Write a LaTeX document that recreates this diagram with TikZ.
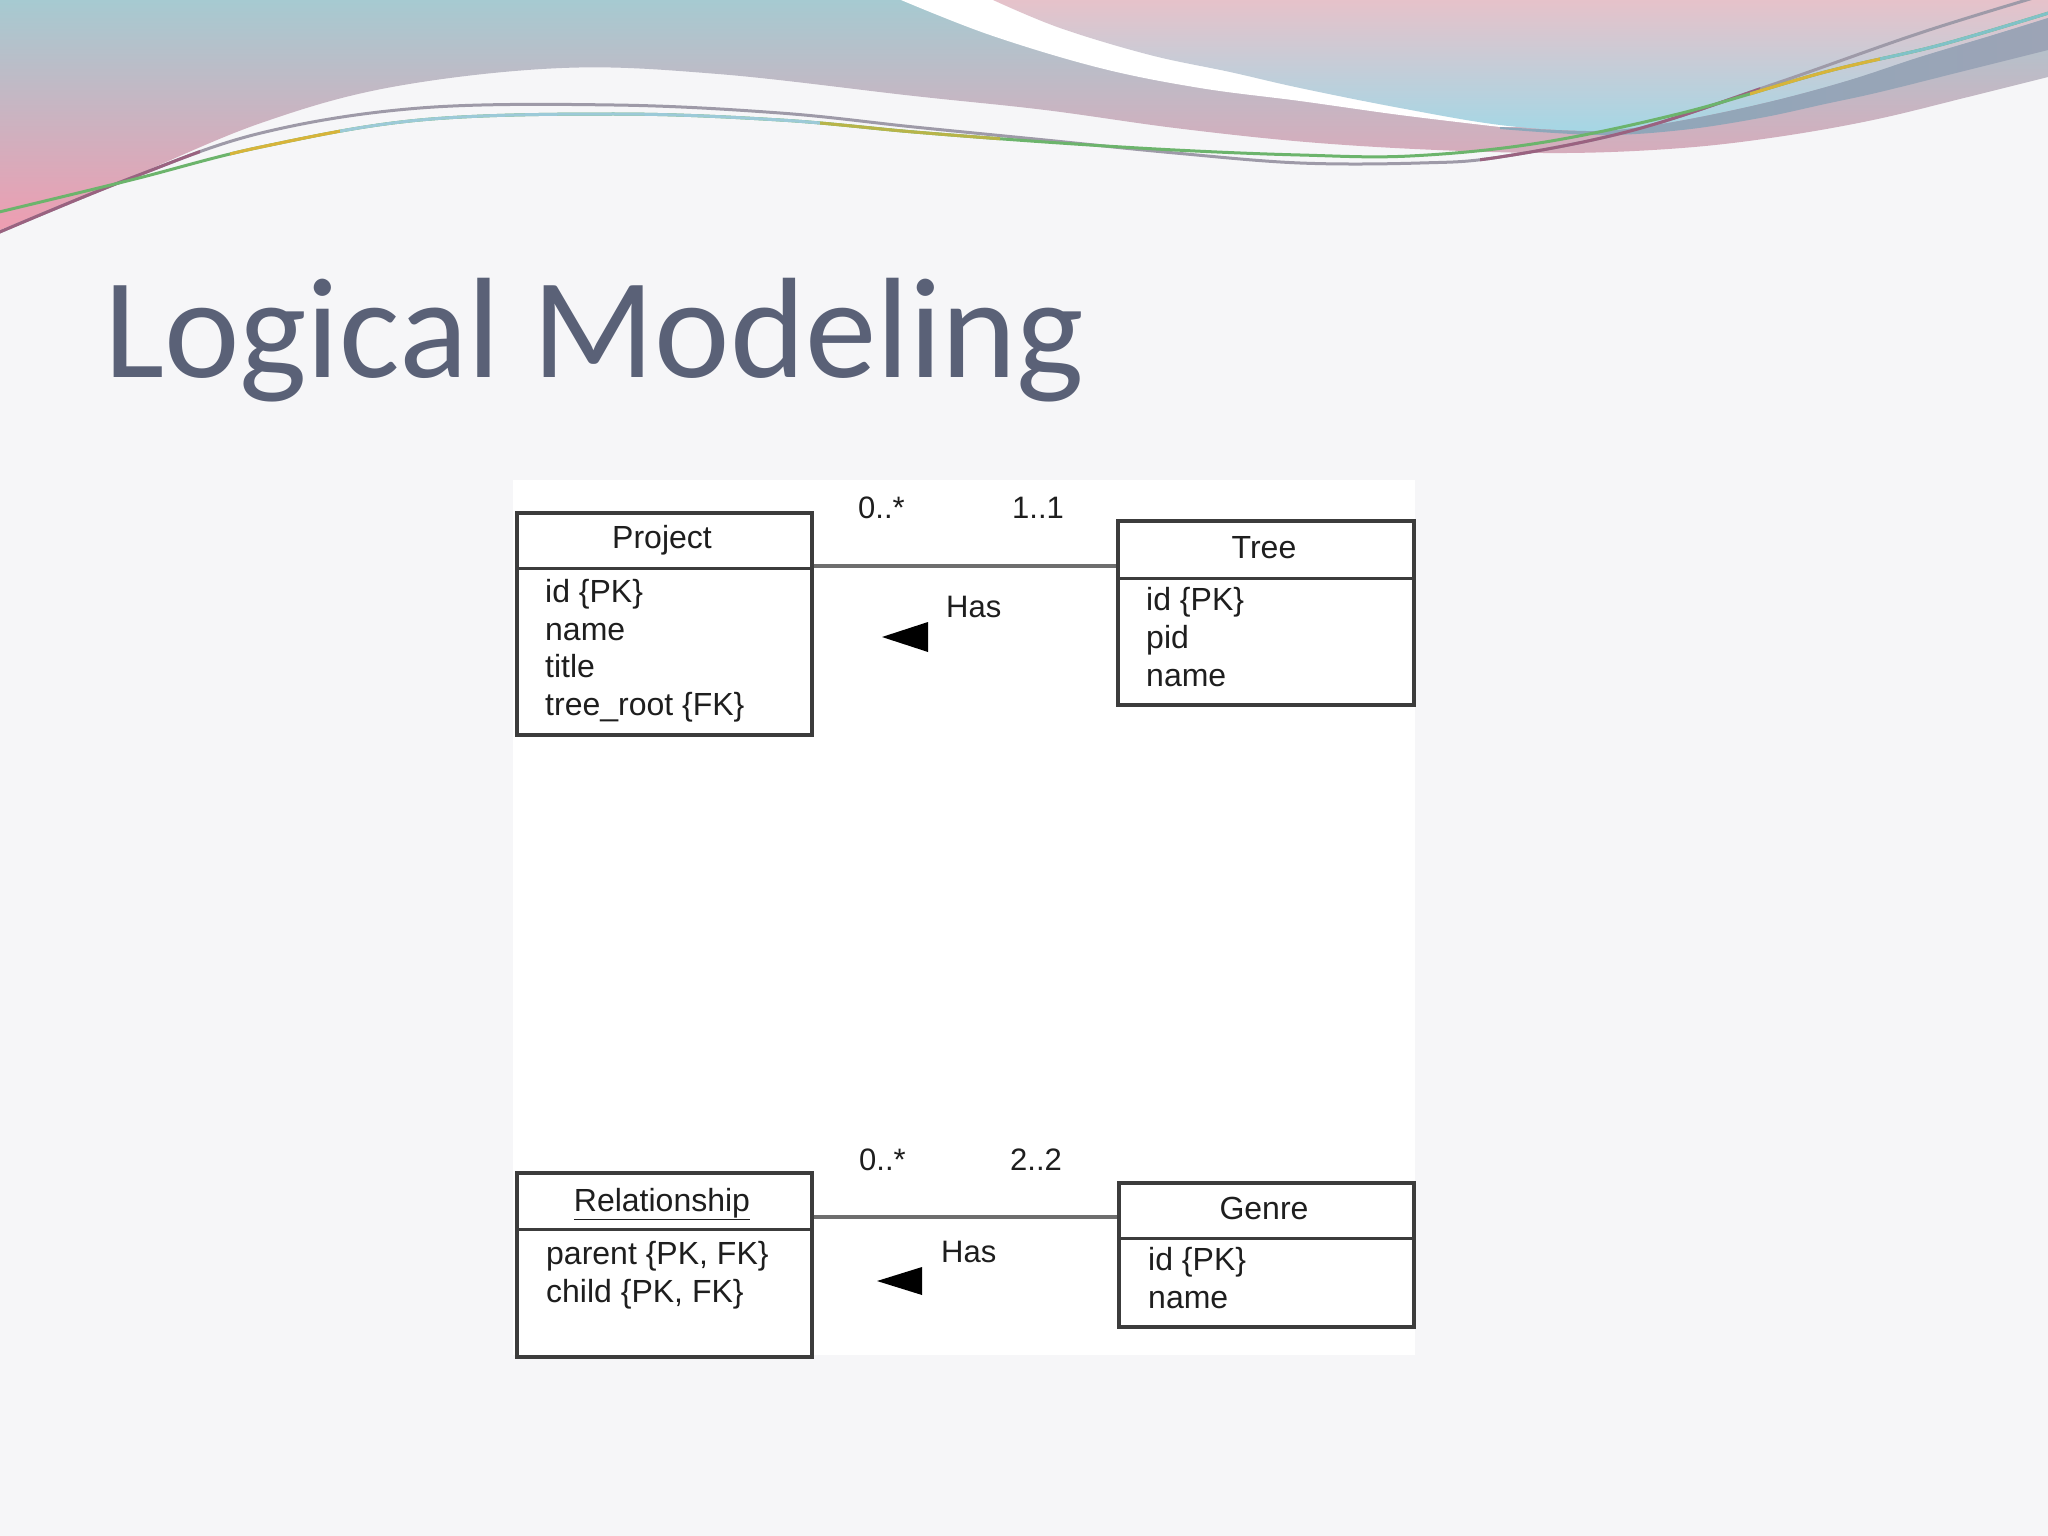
\documentclass[tikz,border=0pt]{standalone}
\usepackage{fontspec}
\setmainfont{Liberation Sans}
\newfontfamily\titlefont{Carlito}
\usetikzlibrary{calc}
\definecolor{bgcol}{HTML}{F6F6F8}
\definecolor{titlecol}{HTML}{5A6177}
\definecolor{boxline}{HTML}{3C3C3C}
\definecolor{conncol}{HTML}{6E6E6E}
\definecolor{txtcol}{HTML}{1E1E1E}
\definecolor{tealA}{HTML}{A6CAD1}
\definecolor{mauveA}{HTML}{C2B0C0}
\definecolor{pinkA}{HTML}{EE9DB1}
\definecolor{pinkB}{HTML}{E6C2CA}
\definecolor{blueB}{HTML}{A5D7E5}
\definecolor{bandL}{HTML}{8CA7BA}
\definecolor{bandR}{HTML}{9CA4B6}
\definecolor{lgreen}{HTML}{6CB46C}
\definecolor{lgold}{HTML}{D8B43A}
\definecolor{lblue}{HTML}{9CCAD8}
\definecolor{lteal}{HTML}{80C2C8}
\definecolor{lgray}{HTML}{9E9AA8}
\definecolor{lpurp}{HTML}{9A6280}
\newcommand\waveone{plot[smooth,tension=0.6] coordinates {(-5,234) (131,178) (261,133) (420,108) (614,105) (780,113) (914,127) (1045,140) (1175,153) (1300,163) (1420,163) (1500,157) (1634,130) (1777,83) (1920,33) (2040,-4)}}
\newcommand\wavetwo{plot[smooth,tension=0.6] coordinates {(-5,213) (131,180) (261,147) (420,120) (614,114) (780,120) (914,132) (1045,142) (1175,150) (1300,155) (1410,156) (1539,143) (1682,113) (1825,72) (1940,45) (2055,11)}}
\begin{document}
\begin{tikzpicture}[x=1pt,y=-1pt,
  umlbox/.style={draw=boxline, line width=3.5pt, fill=white, inner sep=0pt, anchor=north west},
  divline/.style={draw=boxline, line width=3pt},
  conn/.style={draw=conncol, line width=4pt},
  hdr/.style={anchor=base, inner sep=0pt, text=txtcol, font=\fontsize{32}{38}\selectfont},
  attr/.style={anchor=base west, inner sep=0pt, text=txtcol, font=\fontsize{32}{38}\selectfont},
  mult/.style={anchor=base west, inner sep=0pt, text=txtcol, font=\fontsize{31}{36}\selectfont},
  navarrow/.style={fill=black},
  thin/.style={line width=3pt, line cap=round}]
\useasboundingbox (0,0) rectangle (2048,1536);
\fill[bgcol] (0,0) rectangle (2048,1536);

% --- top decoration ---
\shade[top color=tealA, middle color=mauveA, bottom color=pinkA]
  (0,0) -- (2048,0) -- (2048,77) --
  plot[smooth,tension=0.6] coordinates {(2048,77) (1968,97) (1873,120) (1777,137) (1682,148) (1567,153) (1437,150) (1306,142) (1175,128) (1045,110) (914,96) (718,74) (562,68) (392,87) (261,123) (131,177) (0,230)}
  -- cycle;
\fill[white]
  (901,0) -- plot[smooth,tension=0.6] coordinates {(901,0) (990,35) (1100,68) (1200,88) (1300,101) (1400,115) (1500,127)}
  -- (1560,126) -- (2048,10) -- (2048,0) -- cycle;
\shade[top color=pinkB, bottom color=blueB]
  (993,0) -- plot[smooth,tension=0.6] coordinates {(993,0) (1060,28) (1150,55) (1230,72) (1300,88) (1400,108) (1500,125) (1586,131) (1634,128) (1700,117) (1777,100) (1850,80) (1920,57) (1990,36) (2048,18)}
  -- (2048,0) -- cycle;
\shade[left color=bandL, right color=bandR]
  plot[smooth,tension=0.6] coordinates {(1500,127) (1586,131) (1634,128) (1700,117) (1777,100) (1850,80) (1920,57) (1990,36) (2048,18)}
  -- (2048,50) --
  plot[smooth,tension=0.6] coordinates {(2048,50) (1968,70) (1880,92) (1825,104) (1760,118) (1682,130) (1600,135) (1500,129)}
  -- cycle;
% thin lines
\draw[thin, lgray] \waveone;
\begin{scope}\clip (-10,-10) rectangle (200,300); \draw[thin, lpurp] \waveone; \end{scope}
\begin{scope}\clip (1480,-10) rectangle (1760,300); \draw[thin, lpurp] \waveone; \end{scope}
\draw[thin, lgreen] \wavetwo;
\begin{scope}\clip (230,-10) rectangle (340,300); \draw[thin, lgold] \wavetwo; \end{scope}
\begin{scope}\clip (340,-10) rectangle (820,300); \draw[thin, lblue] \wavetwo; \end{scope}
\begin{scope}\clip (820,-10) rectangle (1000,300); \draw[thin, lgold!70!lgreen] \wavetwo; \end{scope}
\begin{scope}\clip (1750,-10) rectangle (1880,300); \draw[thin, lgold] \wavetwo; \end{scope}
\begin{scope}\clip (1880,-10) rectangle (2060,300); \draw[thin, lteal] \wavetwo; \end{scope}

% --- title ---
\node[anchor=base west, inner sep=0pt, text=titlecol, font=\titlefont\fontsize{143}{150}\selectfont] (title) at (104,377) {Logical Modeling};

% --- diagram panel ---
\fill[white] (513,480) rectangle (1415,1355);

% --- boxes ---
\node[umlbox, minimum width=295pt, minimum height=222pt] (proj) at (515,511) {};
\node[umlbox, minimum width=296pt, minimum height=184pt] (tree) at (1116,519) {};
\node[umlbox, minimum width=295pt, minimum height=184pt] (rel) at (515,1171) {};
\node[umlbox, minimum width=295pt, minimum height=144pt] (genre) at (1117,1181) {};

\draw[divline] ([yshift=-57pt]proj.north west) -- ([yshift=-57pt]proj.north east);
\draw[divline] ([yshift=-59pt]tree.north west) -- ([yshift=-59pt]tree.north east);
\draw[divline] ([yshift=-58pt]rel.north west) -- ([yshift=-58pt]rel.north east);
\draw[divline] ([yshift=-57pt]genre.north west) -- ([yshift=-57pt]genre.north east);

% headers
\node[hdr] (projh) at (662,548) {Project};
\node[hdr] (treeh) at (1264,558) {Tree};
\node[hdr] (relh) at (662,1211) {\underline{Relationship}};
\node[hdr] (genreh) at (1264,1219) {Genre};

% attributes
\node[attr] (p1) at (545,602) {id \{PK\}};
\node[attr] (p2) at (545,640) {name};
\node[attr] (p3) at (545,677) {title};
\node[attr] (p4) at (545,715) {tree\_root \{FK\}};
\node[attr] (t1) at (1146,610) {id \{PK\}};
\node[attr] (t2) at (1146,648) {pid};
\node[attr] (t3) at (1146,686) {name};
\node[attr] (r1) at (546,1264) {parent \{PK, FK\}};
\node[attr] (r2) at (546,1302) {child \{PK, FK\}};
\node[attr] (g1) at (1148,1270) {id \{PK\}};
\node[attr] (g2) at (1148,1308) {name};

% connectors
\draw[conn] ([yshift=-55pt]proj.north east) -- ([yshift=-47pt]tree.north west);
\draw[conn] ([yshift=-46pt]rel.north east) -- ([yshift=-36pt]genre.north west);

% connector labels
\node[mult] (m1) at (858,518) {0..*};
\node[mult] (m2) at (1012,518) {1..1};
\node[mult] (h1) at (946,617) {Has};
\node[mult] (m3) at (859,1170) {0..*};
\node[mult] (m4) at (1010,1170) {2..2};
\node[mult] (h2) at (941,1262) {Has};
\fill[navarrow] (882,637) -- (928,622) -- (928,652) -- cycle;
\fill[navarrow] (877,1281) -- (922,1267) -- (922,1295) -- cycle;
\end{tikzpicture}
\end{document}
